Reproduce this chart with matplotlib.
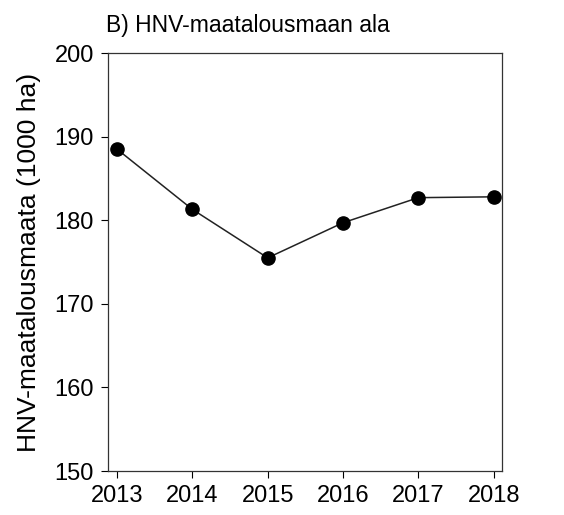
import matplotlib.pyplot as plt

years = [2013, 2014, 2015, 2016, 2017, 2018]
area = [188.5, 181.3, 175.5, 179.7, 182.7, 182.8]
yticks = [150, 160, 170, 180, 190, 200]

plt.rcParams['font.family'] = ['Liberation Sans', 'DejaVu Sans']

fig = plt.figure(figsize=(5.64, 5.15), dpi=100)
ax = fig.add_axes([0.1915, 0.0854, 0.6985, 0.8116])

ax.plot(years, area, color='#222222', linewidth=1.1, marker='o',
        markersize=9.5, markerfacecolor='black', markeredgecolor='black')

ax.set_xlim(2012.88, 2018.11)
ax.set_ylim(150, 200)
ax.set_xticks(years)
ax.set_yticks(yticks)
ax.tick_params(labelsize=17, length=5, width=0.8, direction='out', pad=5)
for s in ax.spines.values():
    s.set_linewidth(0.9)
    s.set_color('#333333')

ax.set_ylabel('HNV-maatalousmaata (1000 ha)', fontsize=19, labelpad=10)
fig.text(0.188, 0.95, 'B) HNV-maatalousmaan ala', fontsize=16.5, va='center', ha='left')

fig.savefig('out.png', dpi=100)
